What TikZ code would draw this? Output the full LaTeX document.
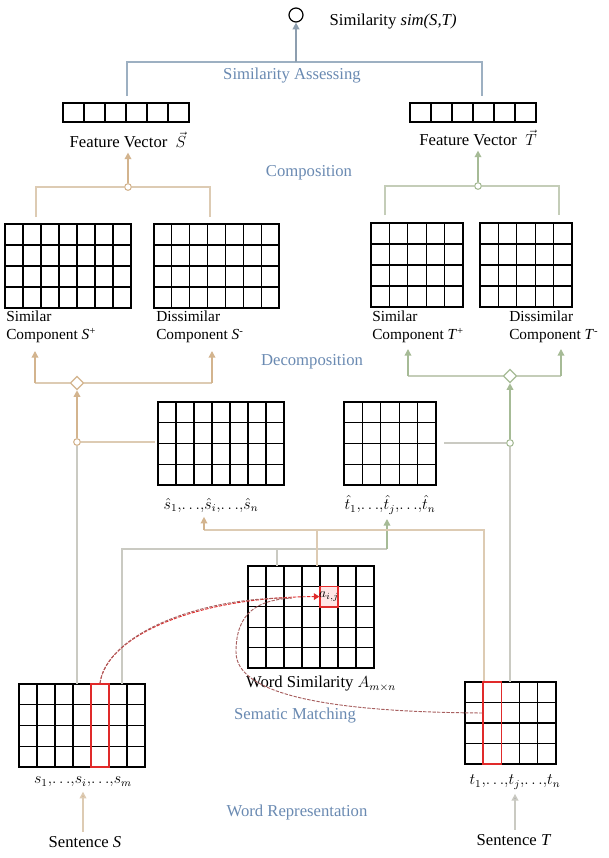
\documentclass[tikz,border=0pt]{standalone}
\usepackage{fontspec}
\setmainfont{Liberation Serif}
\usetikzlibrary{arrows.meta,shapes.geometric,calc,fit}
\definecolor{bluet}{HTML}{6A8AB2}
\definecolor{bluel}{HTML}{9DB0C2}
\definecolor{tanl}{HTML}{DDCBB3}
\definecolor{tana}{HTML}{D3B48E}
\definecolor{grnl}{HTML}{C4CDB8}
\definecolor{grna}{HTML}{A6BB96}
\definecolor{grayl}{HTML}{CACAC2}
\definecolor{redl}{HTML}{E02A2A}
\definecolor{curvel}{HTML}{A86060}
\newcommand\mkgrid[7]{%
  \node[gridbox, fit={(#2,#3) (#4,#5)}] (#1) {};
  \foreach \k in {1,...,#6}{\draw[gridln] ({#2+\k*(#4-#2)/#6},#3) -- ({#2+\k*(#4-#2)/#6},#5);}
  \foreach \k in {1,...,#7}{\draw[gridln] (#2,{#3+\k*(#5-#3)/#7}) -- (#4,{#3+\k*(#5-#3)/#7});}
}
\begin{document}
\begin{tikzpicture}[x=0.75pt,y=-0.75pt,
  font=\fontsize{12.5}{13.5}\selectfont,
  lbl/.style={text=bluet},
  gridbox/.style={draw, line width=0.85pt, inner sep=0pt, outer sep=0pt},
  gridln/.style={line width=0.85pt, black},
  conn/.style={line width=1.1pt},
  arr/.style={-{Triangle[width=5pt,length=5pt]}},
  junc/.style={circle, draw, fill=white, inner sep=0pt, minimum size=5pt, line width=0.8pt},
  dia/.style={diamond, draw, fill=white, inner sep=0pt, minimum size=10pt, line width=0.9pt},
  mlab/.style={font=\fontsize{12}{13}\selectfont},
  comp/.style={anchor=north west, align=left, inner sep=0pt, font=\fontsize{11.5}{13.5}\selectfont},
  redbox/.style={draw=redl, line width=1.1pt, inner sep=0pt},
  curve/.style={line width=0.7pt, curvel, dash pattern=on 2.5pt off 1pt}]
\fill[white] (0,0) rectangle (608,858);
\useasboundingbox (0,0) rectangle (608,858);

% ---------- top: similarity ----------
\node[circle, draw, line width=0.9pt, minimum size=10.5pt, inner sep=0pt] (out) at (296,15) {};
\node[anchor=west] (simtxt) at (325,22) {Similarity \textit{sim(S,T)}};
\coordinate (tj) at (296,62);
\coordinate (tl) at (127,62);
\coordinate (tr) at (482,62);
\coordinate (tlb) at (127,96);
\coordinate (trb) at (482,96);
\draw[conn, bluel] (tlb) -- (tl) -- (tr) -- (trb);
\draw[conn, bluel!90!black, arr] (tj) -- (out);
\node[lbl] (simass) at (292,76) {Similarity Assessing};

% ---------- feature vectors ----------
\mkgrid{fvS}{63}{103}{189}{122}{6}{1}
\node (fvSl) at (128,140) {Feature Vector \ {\large$\vec{S}$}};
\mkgrid{fvT}{410}{103}{536}{122}{6}{1}
\node (fvTl) at (478,138) {Feature Vector \ {\large$\vec{T}$}};

% ---------- composition ----------
\node[lbl] (compo) at (309,173) {Composition};
\node[junc, draw=tana] (cjS) at (128,187) {};
\node[junc, draw=grna] (cjT) at (478,186) {};
\coordinate (cs1) at (36,217); \coordinate (cs2) at (36,187);
\coordinate (cs3) at (210,187); \coordinate (cs4) at (210,217);
\coordinate (ct1) at (385,215); \coordinate (ct2) at (385,186);
\coordinate (ct3) at (559,186); \coordinate (ct4) at (559,215);
\draw[conn, tanl] (cs1) -- (cs2) -- (cjS.west);
\draw[conn, tanl] (cjS.east) -- (cs3) -- (cs4);
\draw[conn, grnl] (ct1) -- (ct2) -- (cjT.west);
\draw[conn, grnl] (cjT.east) -- (ct3) -- (ct4);
\draw[conn, tana, arr] (cjS.north) -- (fvSl.south -| cjS);
\draw[conn, grna, arr] (cjT.north) -- (fvTl.south -| cjT);

% ---------- component grids ----------
\mkgrid{Sp}{5}{224}{131}{308}{7}{4}
\mkgrid{Sm}{154}{224}{279}{308}{7}{4}
\mkgrid{Tp}{371}{223}{463}{307}{5}{4}
\mkgrid{Tm}{480}{223}{572}{307}{5}{4}
\node[comp] (Spl) at (6,311) {Similar\\Component \textit{S}\textsuperscript{+}};
\node[comp] (Sml) at (156,311) {Dissimilar\\Component \textit{S}\textsuperscript{-}};
\node[comp] (Tpl) at (372,311) {Similar\\Component \textit{T}\textsuperscript{+}};
\node[comp] (Tml) at (509,311) {Dissimilar\\Component \textit{T}\textsuperscript{-}};

% ---------- decomposition ----------
\node[lbl] (decomp) at (312,362) {Decomposition};
\node[dia, draw=tana] (dS) at (77,383) {};
\node[dia, draw=grna] (dT) at (510,376) {};
\coordinate (ds1) at (35,383); \coordinate (ds2) at (35,351);
\coordinate (ds3) at (212,383); \coordinate (ds4) at (212,351);
\coordinate (dt1) at (408,376); \coordinate (dt2) at (408,349);
\coordinate (dt3) at (561,376); \coordinate (dt4) at (561,349);
\draw[conn, tanl] (dS.west) -- (ds1);
\draw[conn, tana, arr] (ds1) -- (ds2);
\draw[conn, tanl] (dS.east) -- (ds3);
\draw[conn, tana, arr] (ds3) -- (ds4);
\draw[conn, grnl] (dT.west) -- (dt1);
\draw[conn, grna, arr] (dt1) -- (dt2);
\draw[conn, grnl] (dT.east) -- (dt3);
\draw[conn, grna, arr] (dt3) -- (dt4);

% ---------- hat grids ----------
\mkgrid{shG}{158}{402}{284}{485}{7}{4}
\mkgrid{thG}{344}{402}{436}{485}{5}{4}
\node[mlab] (shl) at (211,505) {$\hat{s}_1{,}{\ldots}{,}\hat{s}_i{,}{\ldots}{,}\hat{s}_n$};
\node[mlab] (thl) at (390,505) {$\hat{t}_1{,}{\ldots}{,}\hat{t}_j{,}{\ldots}{,}\hat{t}_n$};

% ---------- word similarity grid ----------
\mkgrid{aG}{248}{566}{374}{668}{7}{5}
\node (wsl) at (321,684) {Word Similarity {\large$A_{m\times n}$}};

% ---------- sentence grids ----------
\mkgrid{sG}{19}{684}{145}{767}{7}{4}
\mkgrid{tG}{465}{682}{556}{764}{5}{4}
\node[mlab] (sl) at (83,782) {$s_1{,}{\ldots}{,}s_i{,}{\ldots}{,}s_m$};
\node[mlab] (tl2) at (515,782) {$t_1{,}{\ldots}{,}t_j{,}{\ldots}{,}t_n$};

% ---------- left/right trunk lines ----------
\node[junc, draw=tana] (jS) at (77,442) {};
\node[junc, draw=grna] (jT) at (510,443) {};
\draw[conn, grayl] (sG.north -| dS) -- (jS.south);
\draw[conn, tana, arr] (jS.north) -- (dS.south);
\draw[conn, tanl, shorten >=2pt] (jS.east) -- (shG.west |- jS);
\draw[conn, grayl] (tG.north -| dT) -- (jT.south);
\draw[conn, grna, arr] (jT.north) -- (dT.south);
\draw[conn, grayl, shorten >=6pt] (jT.west) -- (thG.east |- jT);

% ---------- middle connectors ----------
\coordinate (m1) at (484,530);
\coordinate (m2) at (204,530);
\coordinate (m3) at (317,530);
\coordinate (g1) at (122,549);
\coordinate (g2) at (387,549);
\coordinate (g3) at (277,549);
\draw[conn, grayl] (sG.north -| g1) -- (g1) -- (g2);
\draw[conn, grayl] (aG.north -| g3) -- (g3);
\draw[conn, grna, arr] (g2) -- (thl.south -| g2);
\draw[conn, tanl] (tG.north -| m1) -- (m1) -- (m2);
\draw[conn, tanl] (aG.north -| m3) -- (m3);
\draw[conn, tana, arr] (m2) -- (shl.south -| m2);

% ---------- red highlights ----------
\node[redbox, fill=red!10, fit={(320,586.4) (338,606.8)}] (aij) {};
\node[font=\fontsize{10}{11}\selectfont, inner sep=0pt] (aijt) at (aij) {$a_{i,j}$};
\node[redbox, fit={(91,684) (109,767)}] (sred) {};
\node[redbox, fit={(483.2,682) (501.4,764)}] (tred) {};

% ---------- matching curves ----------
\coordinate (cj) at (292,598);
\draw[curve] ([yshift=7.5pt]tred.west) .. controls (330,712) and (236,695) .. (236,652)
  .. controls (236,612) and (258,600) .. (cj);
\draw[curve, -{Triangle[width=5pt,length=4pt]}, redl] (sred.north) .. controls (106,636) and (196,597) .. (aij.west);
\draw[curve] (sred.north) .. controls (106,636) and (196,597) .. (cj);

% ---------- stage labels ----------
\node[lbl] (semm) at (295,716) {Sematic Matching};
\node[lbl] (wrep) at (297,812) {Word Representation};

% ---------- sentences ----------
\node (sentS) at (85,842) {Sentence \textit{S}};
\node (sentT) at (514,840) {Sentence \textit{T}};
\draw[conn, tanl, -{Triangle[width=5pt,length=5pt,fill=tana]}] (sentS.north -| sl) -- (sl.south);
\draw[conn, grayl, -{Triangle[width=5pt,length=5pt,fill=gray!60]}] (sentT.north -| tl2) -- (tl2.south);
\end{tikzpicture}
\end{document}
